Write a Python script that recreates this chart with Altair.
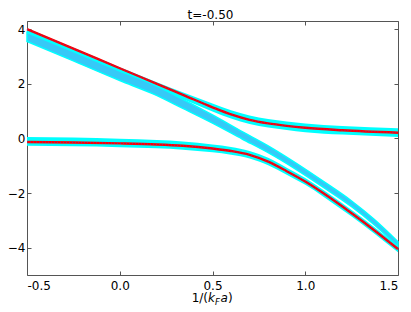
import altair as alt
import pandas as pd

# ---- data ----
# upper branch (red line) and the spread of its cyan bundle
x_upper = [-0.5, -0.25, 0.0, 0.2, 0.35, 0.5, 0.6, 0.7, 0.8, 0.9, 1.0, 1.2, 1.5]
y_upper = [4.0, 3.29, 2.57, 2.0, 1.57, 1.14, 0.88, 0.68, 0.55, 0.46, 0.39, 0.3, 0.21]
y_upper_hi = [4.03, 3.32, 2.61, 2.06, 1.66, 1.28, 1.03, 0.84, 0.71, 0.62, 0.55, 0.46, 0.37]
y_upper_lo = [3.84, 3.13, 2.41, 1.84, 1.41, 0.99, 0.73, 0.53, 0.4, 0.31, 0.23, 0.14, 0.05]

# descending cyan bundle (no red line)
x_diag = [-0.5, -0.25, 0.0, 0.18, 0.34, 0.5, 0.66, 0.8, 0.95, 1.1, 1.25, 1.37, 1.5]
y_diag_hi = [3.88, 3.18, 2.47, 1.98, 1.43, 0.86, 0.25, -0.27, -0.9, -1.58, -2.29, -2.95, -3.78]
y_diag_lo = [3.55, 2.84, 2.12, 1.63, 1.1, 0.56, -0.02, -0.52, -1.13, -1.8, -2.5, -3.15, -3.96]

# lower branch (red line) and the spread of its cyan bundle
x_lower = [-0.5, -0.25, 0.0, 0.2, 0.34, 0.5, 0.6, 0.7, 0.8, 0.9, 1.0, 1.1, 1.25, 1.37, 1.5]
y_lower = [-0.13, -0.15, -0.18, -0.22, -0.27, -0.37, -0.46, -0.6, -0.85, -1.2, -1.58, -2.02, -2.74, -3.35, -4.05]
y_lower_hi = [0.05, 0.03, -0.01, -0.06, -0.11, -0.22, -0.31, -0.46, -0.71, -1.07, -1.45, -1.9, -2.62, -3.23, -3.93]
y_lower_lo = [-0.27, -0.29, -0.32, -0.36, -0.41, -0.51, -0.6, -0.73, -0.98, -1.33, -1.7, -2.14, -2.86, -3.47, -4.17]

x_ticks = [-0.5, 0.0, 0.5, 1.0, 1.5]
y_ticks = [-4, -2, 0, 2, 4]
x_domain = [-0.5, 1.5]
y_domain = [-5, 4.3]
title_text = "t=-0.50"

W, H = 371, 254
FRAME = "#555555"

line_rows = []
for name, xs, ys in [("upper", x_upper, y_upper), ("lower", x_lower, y_lower)]:
    for a, b in zip(xs, ys):
        line_rows.append({"curve": name, "x": a, "y": b})
lines_df = pd.DataFrame(line_rows)

band_rows = []
for name, xs, his, los in [("upper", x_upper, y_upper_hi, y_upper_lo),
                           ("diag", x_diag, y_diag_hi, y_diag_lo),
                           ("lower", x_lower, y_lower_hi, y_lower_lo)]:
    for a, h, l in zip(xs, his, los):
        band_rows.append({"curve": name, "x": a, "hi": h, "lo": l})
bands_df = pd.DataFrame(band_rows)

xs_ = alt.Scale(domain=x_domain, nice=False, zero=False)
ys_ = alt.Scale(domain=y_domain, nice=False, zero=False)


def X(axis):
    return alt.X("x:Q", scale=xs_, axis=axis)


x_lab_axis = alt.Axis(values=x_ticks, ticks=False, domain=False, grid=False, title=None,
                      labelExpr="datum.value < 0 ? '-' + format(-datum.value, '.1f') : format(datum.value, '.1f')",
                      labelPadding=5)
y_lab_axis = alt.Axis(values=y_ticks, format="d", ticks=False, domain=False, grid=False, title=None,
                      labelPadding=2)


def tick_axis(vals, orient, offset):
    return alt.Axis(values=vals, orient=orient, offset=offset, labels=False, domain=False, grid=False,
                    ticks=True, tickSize=4, tickColor=FRAME, title=None)


halo = alt.Chart(bands_df).transform_filter(alt.datum.curve != "diag").mark_area(
    color="#00ffff", interpolate="monotone").encode(
    x=X(x_lab_axis),
    y=alt.Y("hi:Q", scale=ys_, axis=y_lab_axis),
    y2="lo:Q", detail="curve:N")

diag = alt.Chart(bands_df).transform_filter(alt.datum.curve == "diag").mark_area(
    color="#36c9f7", stroke="#00ffff", strokeWidth=1.5, interpolate="monotone").encode(
    x=X(tick_axis(x_ticks, "top", -H)),
    y=alt.Y("hi:Q", scale=ys_, axis=tick_axis(y_ticks, "right", -W)),
    y2="lo:Q", detail="curve:N")

red = alt.Chart(lines_df).mark_line(color="#ff0000", strokeWidth=2.4, interpolate="monotone").encode(
    x=X(tick_axis(x_ticks, "bottom", -H)),
    y=alt.Y("y:Q", scale=ys_, axis=tick_axis(y_ticks, "left", -W)),
    detail="curve:N")

dots = alt.Chart(lines_df).mark_line(
    color="#3344ff", strokeWidth=1, strokeDash=[1, 2], opacity=0.55, interpolate="monotone").encode(
    x=X(None), y=alt.Y("y:Q", scale=ys_, axis=None), detail="curve:N")


def label(txt, xpos, ypos, size=12, italic=False, dy=0, align="left"):
    return alt.Chart(pd.DataFrame({"t": [txt]})).mark_text(
        font="DejaVu Sans", fontSize=size, fontStyle="italic" if italic else "normal",
        align=align, baseline="alphabetic", dy=dy, color="black").encode(
        x=alt.value(xpos), y=alt.value(ypos), text="t:N")


ylab = H + 27
xl1 = label("1/(", 181, ylab, align="right")
xl2 = label("k", 181, ylab, italic=True)
xl3 = label("F", 188, ylab, size=8.5, italic=True, dy=3)
xl4 = label("a", 193.5, ylab, italic=True)
xl5 = label(")", 201, ylab)
ttl = label(title_text, W / 2 - 2, -2, size=12, align="center")

chart = alt.layer(halo, diag, red, dots, xl1, xl2, xl3, xl4, xl5, ttl).resolve_axis(
    x="independent", y="independent").properties(
    width=W, height=H,
    padding={"left": 19, "top": 13, "right": 5, "bottom": 32},
    autosize=alt.AutoSizeParams(type="none"),
).configure_view(stroke=FRAME, strokeWidth=1).configure_axis(
    labelFont="DejaVu Sans", labelFontSize=12, labelColor="black")

chart.save("out.html", embed_options={"renderer": "svg", "actions": False})
